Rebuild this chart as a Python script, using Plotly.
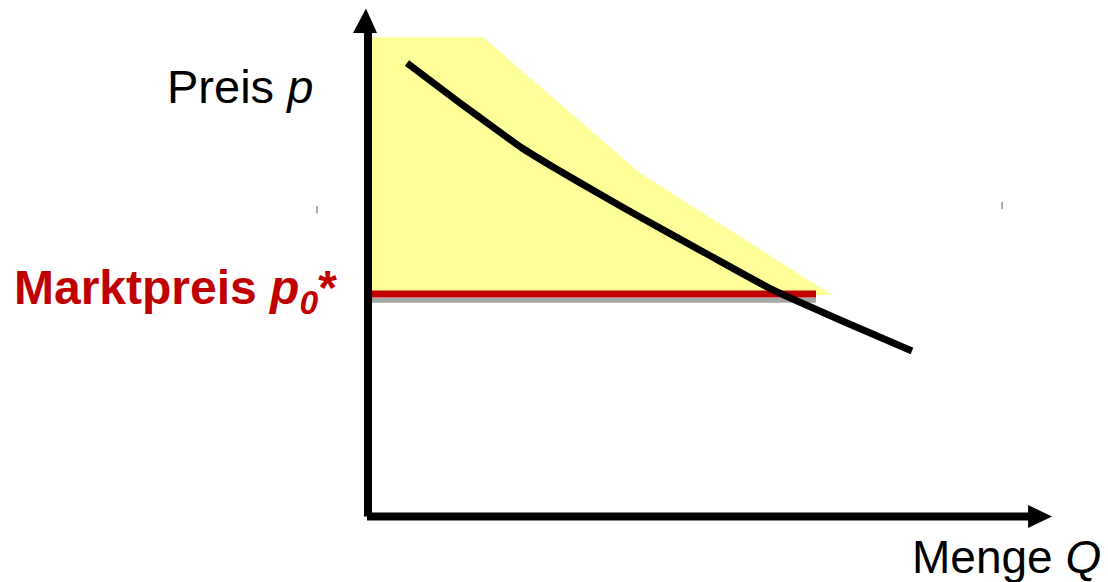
import plotly.graph_objects as go

# ---- pixel-to-data calibration of the drawing (origin of the axes cross) ----
W, H = 1108, 582
X0, Y0 = 368.0, 516.5      # pixel position of (Q=0, p=0)
SX, SY = 6.84, 5.08        # pixels per data unit

# ---- data (in Q / p units) ----
demand_q = [5.70, 13.45, 18.86, 22.51, 27.05, 34.36, 39.77, 49.56, 59.21, 69.01, 79.53]
demand_p = [89.27, 81.40, 76.08, 72.54, 68.80, 63.09, 58.96, 51.67, 44.59, 38.68, 32.58]

surplus_q = [0.0, 16.81, 39.77, 67.84, 0.0]
surplus_p = [94.39, 94.39, 67.62, 43.60, 43.60]

price_q = [0.0, 65.5]
price_p = [43.80, 43.80]
shadow_q = [0.3, 65.5]
shadow_p = [42.55, 42.55]

axis_len = 100.0
stray_ticks = [(-7.46, 59.7, 61.1), (92.7, 60.5, 61.9)]

RED = "#C00000"
YELLOW = "#FFFF99"

fig = go.Figure()

# consumer surplus area
fig.add_trace(go.Scatter(x=surplus_q, y=surplus_p, fill="toself", fillcolor=YELLOW,
                         line=dict(width=0, color=YELLOW), mode="lines", hoverinfo="skip"))

# shadow of price line
fig.add_trace(go.Scatter(x=shadow_q, y=shadow_p, mode="lines",
                         line=dict(color="#A6A6A6", width=5), hoverinfo="skip"))
# market price line
fig.add_trace(go.Scatter(x=price_q, y=price_p, mode="lines",
                         line=dict(color=RED, width=7), hoverinfo="skip"))

# demand curve
fig.add_trace(go.Scatter(x=demand_q, y=demand_p, mode="lines", line_shape="spline",
                         line=dict(color="black", width=7, smoothing=0.6), hoverinfo="skip"))

# axes
fig.add_trace(go.Scatter(x=[0, 0], y=[0, 95.5], mode="lines",
                         line=dict(color="black", width=8), hoverinfo="skip"))
fig.add_trace(go.Scatter(x=[-0.15, 96.8], y=[0, 0], mode="lines",
                         line=dict(color="black", width=8), hoverinfo="skip"))
# arrow heads
fig.add_trace(go.Scatter(x=[-2.19, 1.32, -0.3, -2.19], y=[95.2, 95.2, axis_len, 95.2],
                         fill="toself", fillcolor="black", mode="lines",
                         line=dict(color="black", width=0), hoverinfo="skip"))
fig.add_trace(go.Scatter(x=[96.5, 96.5, axis_len, 96.5], y=[2.26, -2.26, 0, 2.26],
                         fill="toself", fillcolor="black", mode="lines",
                         line=dict(color="black", width=0), hoverinfo="skip"))

# stray tick marks
for q, p1, p2 in stray_ticks:
    fig.add_trace(go.Scatter(x=[q, q], y=[p1, p2], mode="lines",
                             line=dict(color="#555555", width=1), hoverinfo="skip"))

FONT = "Liberation Sans, Arial, sans-serif"
fig.add_annotation(x=-7.8, y=84.6, xanchor="right", yanchor="middle",
                   text="Preis <i>p</i>", showarrow=False,
                   font=dict(family=FONT, size=47, color="black"))
fig.add_annotation(x=107.4, y=-8.0, xanchor="right", yanchor="middle",
                   text="Menge <i>Q</i>", showarrow=False,
                   font=dict(family=FONT, size=46, color="black"))
fig.add_annotation(x=-52.1, y=44.4, xanchor="left", yanchor="middle",
                   text="<b>Marktpreis <i>p</i><sub><i>0</i></sub>*</b>", showarrow=False,
                   font=dict(family=FONT, size=48, color=RED))

fig.update_layout(
    width=W, height=H,
    margin=dict(l=0, r=0, t=0, b=0),
    paper_bgcolor="white", plot_bgcolor="white",
    showlegend=False,
    xaxis=dict(range=[(0 - X0) / SX, (W - X0) / SX], visible=False, fixedrange=True),
    yaxis=dict(range=[(Y0 - H) / SY, Y0 / SY], visible=False, fixedrange=True),
)

fig.write_html("out.html", config={"displayModeBar": False},
               post_script="document.body.style.margin='0';document.body.style.overflow='hidden';")
